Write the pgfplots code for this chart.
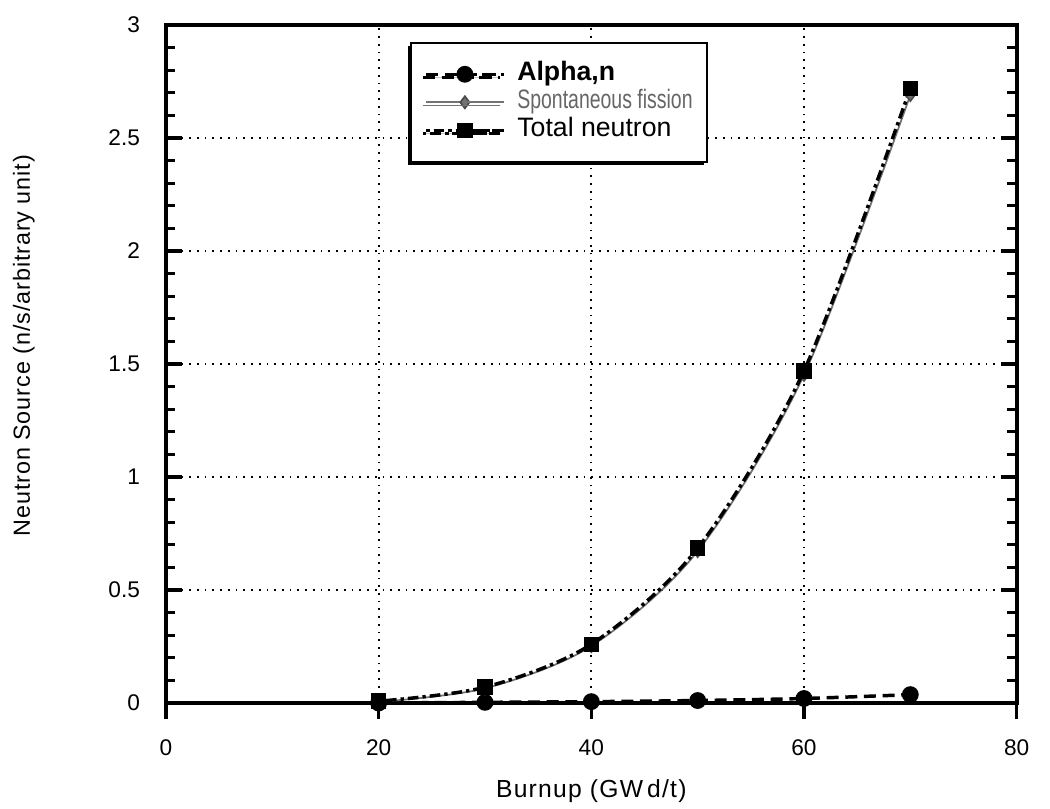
\documentclass[border=0pt]{standalone}
\usepackage{fontspec}
\setmainfont{Liberation Sans}
\usepackage{pgfplots}
\pgfplotsset{compat=1.18}
\usetikzlibrary{shadows}
\begin{document}
\begin{tikzpicture}
\begin{axis}[
  width=638pt, height=508.5pt, scale only axis,
  xmin=0, xmax=80, ymin=0, ymax=3,
  xtick={0,20,40,60,80},
  ytick={0,0.5,1,1.5,2,2.5,3},
  yticklabels={0,0.5,1,1.5,2,2.5,3},
  minor y tick num=4,
  xtick pos=bottom,
  ytick pos=both,
  tick align=inside,
  major tick length=12pt,
  minor tick length=7pt,
  every tick/.style={black, line width=2.5pt},
  x tick style={yshift=-12pt},
  axis line style={line width=3pt},
  grid=major,
  major grid style={black, line width=1.3pt, dash pattern=on 1.3pt off 4.5pt},
  /pgf/number format/assume math mode=true,
  ticklabel style={font=\fontsize{17}{20}\selectfont},
  xticklabel style={yshift=-24pt},
  yticklabel style={xshift=-16pt},
  xlabel={Burnup (GW\,d/t)},
  ylabel={Neutron Source (n/s/arbitrary unit)},
  label style={font=\fontsize{17.5}{20}\selectfont\addfontfeature{LetterSpace=4}},
  xlabel style={at={(axis description cs:0.5,-0.13)}, anchor=center,
    font=\fontsize{18.5}{20}\selectfont\addfontfeature{LetterSpace=5}},
  ylabel style={at={(axis description cs:-0.167,0.527)}, anchor=center},
  legend style={at={(rel axis cs:0.287,0.975)}, anchor=north west,
    draw=black, line width=1.5pt, font=\fontsize{20}{21}\selectfont,
    inner xsep=10pt, inner ysep=13pt, row sep=0pt, column sep=8pt,
    nodes={inner sep=1pt, text height=14.5pt, text depth=4.5pt},
    drop shadow={shadow xshift=-2.5pt, shadow yshift=-2.5pt, fill=black, opacity=1}},
  legend cell align=left,
  legend image code/.code={
    \draw[#1] (0cm,0cm) -- (1.02cm,0cm);
    \draw[#1, mark repeat=2, mark phase=2] plot coordinates {(0cm,0cm) (1.02cm,0cm) (2.04cm,0cm)};
    \draw[#1] (1.02cm,0cm) -- (2.04cm,0cm);
  },
  clip=false,
]
\addplot[black, line width=2.6pt, dash pattern=on 9pt off 5pt, smooth,
  mark=*, mark size=5pt, mark options={solid, fill=black}]
  coordinates {(20,0.0) (30,0.003) (40,0.006) (50,0.011) (60,0.02) (70,0.037)};
\addlegendentry{\textbf{Alpha,n}}
\addplot[black!55, line width=1.3pt, smooth,
  mark=diamond*, mark size=4.5pt, mark options={solid, fill=black!55, draw=black!70}]
  coordinates {(20,0.005) (30,0.065) (40,0.252) (50,0.672) (60,1.452) (70,2.69)};
\addlegendentry{\textcolor{black!60}{\scalebox{0.73}[1]{Spontaneous fission}}}
\addplot[black, line width=2.6pt, dash pattern=on 2.5pt off 3pt on 8pt off 3pt, smooth,
  mark=square*, mark size=4.5pt, mark options={solid, fill=black}]
  coordinates {(20,0.008) (30,0.07) (40,0.26) (50,0.685) (60,1.47) (70,2.72)};
\addlegendentry{Total neutron}
\end{axis}
\pgfresetboundingbox
\path[use as bounding box] (-124.5pt,-78.75pt) rectangle (663pt,527.25pt);
\end{tikzpicture}
\end{document}
